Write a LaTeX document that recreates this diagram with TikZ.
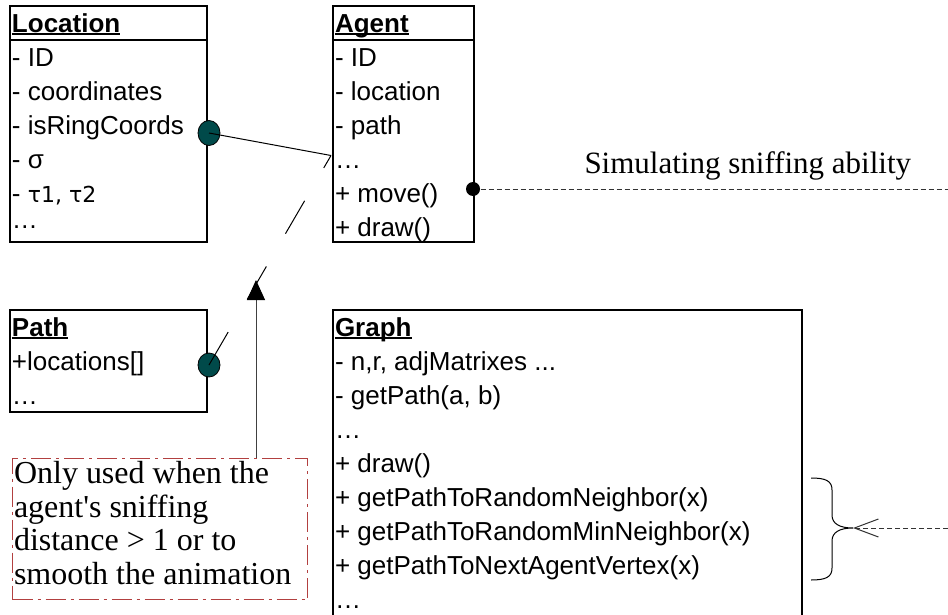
\documentclass[tikz,border=0pt]{standalone}
\usepackage{fontspec}
\setmainfont{Liberation Serif}
\newfontfamily\arialfont{Liberation Sans}
\newfontfamily\dejavufont{DejaVu Sans}
\usetikzlibrary{positioning,arrows.meta,shapes.geometric}

\definecolor{dotteal}{RGB}{0,74,74}
\definecolor{notered}{RGB}{178,64,64}

\newcommand{\classfont}{\arialfont\fontsize{26}{34}\selectfont}
\newcommand{\notefont}{\fontsize{32}{33.5}\selectfont}
\newcommand{\topstrut}{\rule{0pt}{25.5pt}}
\newsavebox{\headbox}
\newcommand{\chead}[1]{\sbox\headbox{\bfseries #1}\rlap{\rule[-2.5pt]{\wd\headbox}{1.6pt}}\usebox\headbox}

\begin{document}
\begin{tikzpicture}[x=1pt,y=-1pt]
\useasboundingbox (0,0) rectangle (948,615);
% Draw Class Diagram
   \begin{scope}[ line width=1pt,
                   classbox/.style={rectangle,draw,line width=1.3pt,inner sep=0pt,outer sep=0pt,anchor=north west},
                   members/.style={anchor=north west,inner sep=0pt,xshift=1.5pt,align=left,font=\classfont},
                   assoc/.style={ellipse,draw,line width=0.8pt,fill=dotteal,inner sep=0pt,minimum width=22pt,minimum height=25pt},
                   sniff/.style={dash pattern=on 5pt off 3pt,black!80} ]
     \node [classbox,minimum width=197pt,minimum height=236pt] (loc)   at (10,6) {};
     \node [classbox,minimum width=141pt,minimum height=236pt] (agent) [right=126pt of loc.north east,anchor=north west] {};
     \node [classbox,minimum width=197pt,minimum height=102pt] (path)  [below=68pt of loc.south west,anchor=north west] {};
     \node [classbox,minimum width=469pt,minimum height=310pt] (graph) [below=68pt of agent.south west,anchor=north west] {};
     \node [rectangle,draw=notered,line width=1pt,dash pattern=on 20pt off 5pt on 3pt off 5pt,inner sep=0pt,
            minimum width=295pt,minimum height=141pt] (note) [below=46pt of path.south west,anchor=north west,xshift=2pt] {};

     \draw [line width=1.3pt] ([yshift=-34pt]loc.north west) -- ([yshift=-34pt]loc.north east);
     \draw [line width=1.3pt] ([yshift=-34pt]agent.north west) -- ([yshift=-34pt]agent.north east);

     \node [members] (loctext) at (loc.north west)
       {\topstrut\chead{Location}\\- ID\\- coordinates\\- isRingCoords\\- σ\\- {\dejavufont\fontsize{22}{34}\selectfont τ1, τ2}\\[-8pt]…};
     \node [members] (agenttext) at (agent.north west)
       {\topstrut\chead{Agent}\\- ID\\- location\\- path\\…\\+ move()\\+ draw()};
     \node [members] (pathtext) at (path.north west)
       {\topstrut\chead{Path}\\+locations[]\\…};
     \node [members] (graphtext) at (graph.north west)
       {\topstrut\chead{Graph}\\- n,r, adjMatrixes ...\\- getPath(a, b)\\…\\+ draw()\\+ getPathToRandomNeighbor(x)\\+ getPathToRandomMinNeighbor(x)\\+ getPathToNextAgentVertex(x)\\…};
     \node [anchor=north west,inner sep=0pt,xshift=1.5pt,align=left,font=\notefont] (notetext) at (note.north west)
       {\rule{0pt}{25pt}Only used when the\\agent\textquotesingle s sniffing\\distance > 1 or to\\smooth the animation};

     % associations
     \coordinate (agentjoin) at (331,155.5);
     \node [assoc] (locdot)  at (209,133) {};
     \node [assoc,minimum height=24pt] (pathdot) at (209,365) {};
     \draw (locdot.center) -- (agentjoin);
     \draw [dash pattern=on 38pt off 38pt] (pathdot.center) -- (agentjoin);

     \coordinate (uptip) at (256,280);
     \draw [black!75,-{Triangle[length=20pt,width=18pt,color=black]}] (note.north -| uptip) -- (uptip);

     % sniffing
     \node [circle,fill=black,inner sep=0pt,minimum size=14pt] (sniffdot) at (473,189) {};
     \coordinate (sniffend) at (948,189);
     \draw [sniff] (sniffdot) -- (sniffend);
     \node [anchor=base west,inner sep=0pt,font=\fontsize{31}{36}\selectfont] (sniffnote) at (584,173) {Simulating sniffing ability};

     % brace on the graph methods
     \coordinate (bracetop) at (811,478);
     \coordinate (bracebot) at (811,580);
     \coordinate (bracetip) at (853,528);
     \coordinate (braceend) at (948,528);
     \draw (bracetop) .. controls (826,478) and (832,481) .. (832,490) -- (832,515)
           .. controls (832,524) and (840,528) .. (bracetip)
           .. controls (840,528) and (832,532) .. (832,541) -- (832,568)
           .. controls (832,577) and (826,580) .. (bracebot);
     \draw [sniff,-{Straight Barb[length=24pt,width=18pt]}] (braceend) -- (bracetip);
   \end{scope}
\end{tikzpicture}
\end{document}
